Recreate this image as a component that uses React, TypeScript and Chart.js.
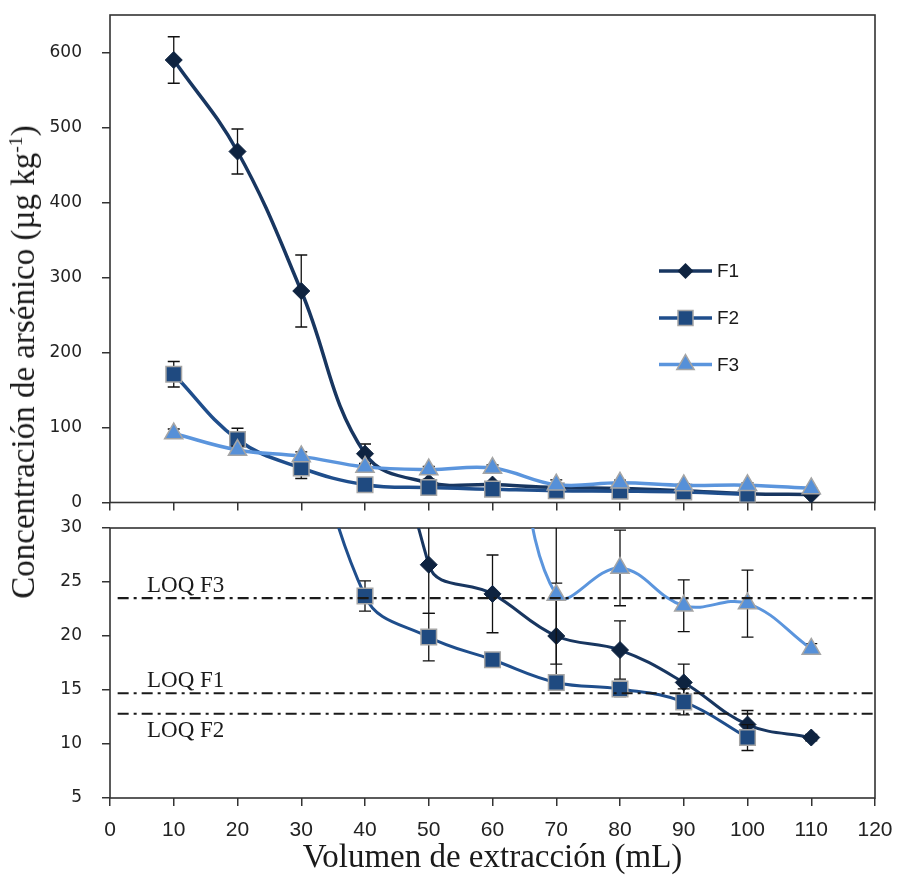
import React, { useEffect, useRef } from 'react';
import { Chart, registerables } from 'chart.js';

Chart.register(...registerables);

// ---------- data ----------
const volumes = [10, 20, 30, 40, 50, 60, 70, 80, 90, 100, 110];
const seriesNames = ['F1', 'F2', 'F3'];
const f1Values = [590, 468, 282, 65, 26.6, 23.9, 20.0, 18.7, 15.7, 11.8, 10.6];
const f1Errors = [31, 30, 48, 13, 4.5, 3.6, 4.9, 2.7, 1.7, 1.3, 0.3];
const f2Values = [171, 84, 46, 23.7, 19.9, 17.8, 15.7, 15.1, 13.9, 10.6];
const f2Errors = [17, 15, 14, 1.4, 2.2, 0.3, 0.4, 0.7, 1.2, 1.2];
const f3Values = [92, 70, 61.5, 47.5, 44, 46, 23.8, 26.3, 22.8, 23.0, 18.8];
const f3Errors = [6, 5, 6, 3, 4, 4, 6.4, 3.5, 2.4, 3.1, 0.5];
const loqLabels = ['LOQ F3', 'LOQ F1', 'LOQ F2'];
const loqValues = [23.5, 14.7, 12.8];
const topYTicks = [0, 100, 200, 300, 400, 500, 600];
const bottomYTicks = [5, 10, 15, 20, 25, 30];
const xTicks = [0, 10, 20, 30, 40, 50, 60, 70, 80, 90, 100, 110, 120];
const xTitle = 'Volumen de extracción (mL)';

// ---------- styles ----------
const AX = '#333333';
const C = {
  f1: '#183660', f1p: '#0E2340',
  f2: '#1F4E8C', f2p: '#1F4A80',
  f3: '#5B95DD', f3p: '#5690D8',
  mk: '#A5A5A5',
};

function pts(vals: number[]) {
  return vals.map((y, i) => ({ x: volumes[i], y }));
}

function datasets(lineW: number) {
  return [
    {
      label: seriesNames[0], data: pts(f1Values), errors: f1Errors,
      borderColor: C.f1, backgroundColor: C.f1p, borderWidth: lineW,
      pointStyle: 'rectRot', pointRadius: 8.5, pointBackgroundColor: C.f1p,
      pointBorderColor: C.f1p, pointBorderWidth: 1, tension: 0.4, order: 3,
    },
    {
      label: seriesNames[1], data: pts(f2Values), errors: f2Errors,
      borderColor: C.f2, backgroundColor: C.f2p, borderWidth: lineW,
      pointStyle: 'rect', pointRadius: 11, pointBackgroundColor: C.f2p,
      pointBorderColor: C.mk, pointBorderWidth: 1.5, tension: 0.4, order: 2,
    },
    {
      label: seriesNames[2], data: pts(f3Values), errors: f3Errors,
      borderColor: C.f3, backgroundColor: C.f3p, borderWidth: lineW,
      pointStyle: 'triangle', pointRadius: 10.5, pointBackgroundColor: C.f3p,
      pointBorderColor: C.mk, pointBorderWidth: 1.5, tension: 0.4, order: 1,
    },
  ];
}

const framePlugin = {
  id: 'frame',
  beforeDatasetsDraw(chart: any) {
    const { ctx, chartArea: a } = chart;
    ctx.save();
    ctx.strokeStyle = AX;
    ctx.lineWidth = 1.6;
    ctx.strokeRect(a.left, a.top, a.right - a.left, a.bottom - a.top);
    ctx.restore();
  },
};

const errorBarPlugin = {
  id: 'errorBars',
  beforeDatasetDraw(chart: any, args: any) {
    const ds = chart.data.datasets[args.index];
    const errs: number[] = ds.errors;
    if (!errs) return;
    const { ctx, chartArea: a } = chart;
    const xs = chart.scales.x, ys = chart.scales.y;
    ctx.save();
    ctx.beginPath();
    ctx.rect(a.left, a.top, a.right - a.left, a.bottom - a.top);
    ctx.clip();
    ctx.strokeStyle = '#111';
    ctx.lineWidth = 1.3;
    ds.data.forEach((p: any, i: number) => {
      const e = errs[i];
      if (!e) return;
      const x = xs.getPixelForValue(p.x);
      const y1 = ys.getPixelForValue(p.y + e);
      const y2 = ys.getPixelForValue(p.y - e);
      ctx.beginPath();
      ctx.moveTo(x, y1); ctx.lineTo(x, y2);
      ctx.moveTo(x - 6, y1); ctx.lineTo(x + 6, y1);
      ctx.moveTo(x - 6, y2); ctx.lineTo(x + 6, y2);
      ctx.stroke();
    });
    ctx.restore();
  },
};

function drawMarker(ctx: CanvasRenderingContext2D, kind: number, x: number, y: number) {
  ctx.beginPath();
  if (kind === 0) {
    const r = 8;
    ctx.moveTo(x, y - r); ctx.lineTo(x + r, y); ctx.lineTo(x, y + r); ctx.lineTo(x - r, y);
    ctx.closePath();
    ctx.fillStyle = C.f1p; ctx.fill();
  } else if (kind === 1) {
    const s = 7.5;
    ctx.rect(x - s, y - s, 2 * s, 2 * s);
    ctx.fillStyle = C.f2p; ctx.fill();
    ctx.strokeStyle = C.mk; ctx.lineWidth = 1.5; ctx.stroke();
  } else {
    const r = 10;
    for (let k = 0; k < 3; k++) {
      const ang = -Math.PI / 2 + (k * 2 * Math.PI) / 3;
      const px = x + Math.cos(ang) * r, py = y + Math.sin(ang) * r;
      if (k === 0) ctx.moveTo(px, py); else ctx.lineTo(px, py);
    }
    ctx.closePath();
    ctx.fillStyle = C.f3p; ctx.fill();
    ctx.strokeStyle = C.mk; ctx.lineWidth = 1.5; ctx.stroke();
  }
}

const legendPlugin = {
  id: 'customLegend',
  afterDraw(chart: any) {
    const ctx = chart.ctx as CanvasRenderingContext2D;
    const lineColors = [C.f1, C.f2, C.f3];
    const ys = [271, 318, 364.5];
    ctx.save();
    seriesNames.forEach((name, i) => {
      const y = ys[i];
      ctx.strokeStyle = lineColors[i];
      ctx.lineWidth = 3.5;
      ctx.beginPath();
      ctx.moveTo(659, y); ctx.lineTo(712, y);
      ctx.stroke();
      drawMarker(ctx, i, 685.5, y);
      ctx.fillStyle = '#1a1a1a';
      ctx.font = "19px 'Liberation Sans'";
      ctx.textBaseline = 'middle';
      ctx.textAlign = 'left';
      ctx.fillText(name, 717, y + 1);
    });
    ctx.restore();
  },
};

const loqPlugin = {
  id: 'loq',
  afterDatasetsDraw(chart: any) {
    const { ctx, chartArea: a } = chart;
    const xs = chart.scales.x, ys = chart.scales.y;
    ctx.save();
    ctx.strokeStyle = '#1a1a1a';
    ctx.lineWidth = 2.2;
    ctx.setLineDash([11, 5, 3, 5]);
    loqValues.forEach((v) => {
      const y = ys.getPixelForValue(v);
      ctx.beginPath();
      ctx.moveTo(xs.getPixelForValue(1.2), y);
      ctx.lineTo(a.right, y);
      ctx.stroke();
    });
    ctx.setLineDash([]);
    ctx.fillStyle = '#1a1a1a';
    ctx.font = "23px 'Liberation Serif'";
    ctx.textAlign = 'left';
    ctx.textBaseline = 'alphabetic';
    loqLabels.forEach((t, i) => {
      const y = ys.getPixelForValue(loqValues[i]);
      const below = i === loqLabels.length - 1;
      ctx.fillText(t, a.left + 37, below ? y + 23 : y - 6);
    });
    ctx.restore();
  },
};

const gridOpts = { drawOnChartArea: false, drawTicks: true, tickLength: 8, color: AX, lineWidth: 1.5 };

const fixX = (h: number) => (s: any) => {
  s.height = h; s.paddingLeft = 0; s.paddingRight = 0; s.paddingTop = 0; s.paddingBottom = 0;
};
const fixY = (s: any) => {
  s.width = 110; s.paddingTop = 0; s.paddingBottom = 0; s.paddingLeft = 0; s.paddingRight = 0;
};

function topConfig(): any {
  return {
    type: 'line',
    data: { datasets: datasets(3.5) },
    options: {
      responsive: false, animation: false,
      layout: { padding: { top: 15, right: 23, left: 0, bottom: 0 } },
      elements: { line: { capBezierPoints: false } },
      plugins: { legend: { display: false }, tooltip: { enabled: false } },
      scales: {
        x: {
          type: 'linear', min: 0, max: 120,
          afterBuildTicks: (s: any) => { s.ticks = xTicks.map((v) => ({ value: v })); },
          ticks: { display: false },
          grid: gridOpts, border: { display: false },
          afterFit: fixX(12),
        },
        y: {
          type: 'linear', min: 0, max: 650,
          afterBuildTicks: (s: any) => { s.ticks = topYTicks.map((v) => ({ value: v })); },
          ticks: { font: { family: 'DejaVu Sans', size: 17 }, color: '#222', padding: 20 },
          grid: gridOpts, border: { display: false },
          afterFit: fixY,
        },
      },
    },
    plugins: [framePlugin, errorBarPlugin, legendPlugin],
  };
}

function bottomConfig(): any {
  return {
    type: 'line',
    data: { datasets: datasets(3) },
    options: {
      responsive: false, animation: false,
      layout: { padding: { top: 13, right: 23, left: 0, bottom: 0 } },
      elements: { line: { capBezierPoints: false } },
      plugins: { legend: { display: false }, tooltip: { enabled: false } },
      scales: {
        x: {
          type: 'linear', min: 0, max: 120,
          afterBuildTicks: (s: any) => { s.ticks = xTicks.map((v) => ({ value: v })); },
          ticks: { font: { family: "'Liberation Sans Narrow', 'Liberation Sans'", size: 21 }, color: '#222', padding: 12, maxRotation: 0, autoSkip: false },
          grid: gridOpts, border: { display: false },
          title: { display: true, text: xTitle, font: { family: 'Liberation Serif', size: 33 }, color: '#1a1a1a', padding: { top: 0, bottom: 1 } },
          afterFit: fixX(81),
        },
        y: {
          type: 'linear', min: 5, max: 30,
          afterBuildTicks: (s: any) => { s.ticks = bottomYTicks.map((v) => ({ value: v })); },
          ticks: { font: { family: 'DejaVu Sans', size: 17 }, color: '#222', padding: 20 },
          grid: gridOpts, border: { display: false },
          afterFit: fixY,
        },
      },
    },
    plugins: [framePlugin, errorBarPlugin, loqPlugin],
  };
}

export default function App() {
  const topRef = useRef<HTMLCanvasElement>(null);
  const botRef = useRef<HTMLCanvasElement>(null);
  useEffect(() => {
    const top = new Chart(topRef.current as HTMLCanvasElement, topConfig());
    const bot = new Chart(botRef.current as HTMLCanvasElement, bottomConfig());
    return () => { top.destroy(); bot.destroy(); };
  }, []);
  return (
    <div style={{ position: 'absolute', left: 0, top: 0, width: 898, height: 879, background: '#fff', overflow: 'hidden' }}>
      <canvas ref={topRef} width={898} height={515} style={{ position: 'absolute', left: 0, top: 0, display: 'block' }} />
      <canvas ref={botRef} width={898} height={364} style={{ position: 'absolute', left: 0, top: 515, display: 'block' }} />
      <div
        style={{
          position: 'absolute', left: 23, top: 362,
          transform: 'translate(-50%, -50%) rotate(-90deg)',
          whiteSpace: 'nowrap', fontFamily: "'Liberation Serif'", fontSize: 33,
          lineHeight: '34px', color: '#1a1a1a',
        }}
      >
        Concentración de arsénico (µg kg<sup style={{ fontSize: '0.6em', lineHeight: 0 }}>-1</sup>)
      </div>
    </div>
  );
}
